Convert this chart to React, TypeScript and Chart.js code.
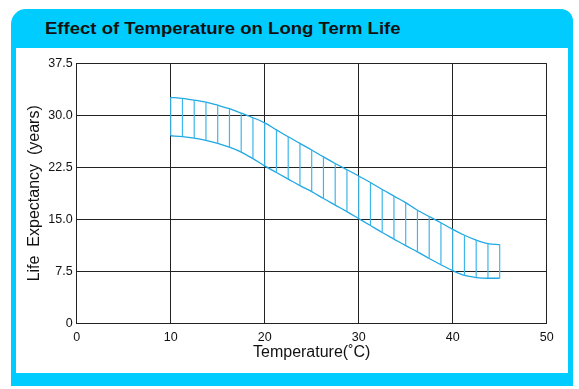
import React, { useEffect, useRef } from "react";
import { Chart, registerables } from "chart.js";

Chart.register(...registerables);

const chartTitle = "Effect of Temperature on Long Term Life";
const xAxisTitle = "Temperature(˚C)";
const yAxisTitle = "Life  Expectancy  (years)";

const yTickLabels = ["0", "7.5", "15.0", "22.5", "30.0", "37.5"];

// Temperatures (°C) where the band is sampled / hatched
const temps = [
  10, 11.25, 12.5, 13.75, 15, 16.25, 17.5, 18.75, 20, 21.25, 22.5, 23.75, 25, 26.25, 27.5,
  28.75, 30, 31.25, 32.5, 33.75, 35, 36.25, 37.5, 38.75, 40, 41.25, 42.5, 43.75, 45,
];

// Upper bound of life expectancy (years)
const upperLife = [
  32.6, 32.45, 32.2, 31.9, 31.45, 30.95, 30.3, 29.65, 28.9, 27.9, 26.9, 25.95, 25.0, 24.0, 23.05,
  22.15, 21.25, 20.3, 19.3, 18.35, 17.4, 16.3, 15.4, 14.5, 13.55, 12.7, 12.0, 11.5, 11.35,
];

// Lower bound of life expectancy (years)
const lowerLife = [
  27.05, 26.92, 26.7, 26.38, 25.95, 25.4, 24.7, 23.75, 22.7, 21.75, 20.8, 19.85, 19.0, 18.0, 17.05,
  16.1, 15.1, 14.1, 13.1, 12.15, 11.2, 10.3, 9.35, 8.45, 7.6, 6.9, 6.6, 6.5, 6.5,
];

const FRAME = "#00CCFF";
const LINE = "#1FA8E3";
const HATCH = "#3DB6EA";
const FONT = "'Liberation Sans', Arial, sans-serif";

export default function App() {
  const canvasRef = useRef<HTMLCanvasElement | null>(null);

  useEffect(() => {
    const canvas = canvasRef.current;
    if (!canvas) return;

    const upperPts = temps.map((t, i) => ({ x: t, y: upperLife[i] }));
    const lowerPts = temps.map((t, i) => ({ x: t, y: lowerLife[i] }));
    const hatchPts: { x: number; y: number | null }[] = [];
    temps.forEach((t, i) => {
      hatchPts.push({ x: t, y: lowerLife[i] });
      hatchPts.push({ x: t, y: upperLife[i] });
      hatchPts.push({ x: t, y: null });
    });

    const chart = new Chart(canvas, {
      type: "scatter",
      data: {
        datasets: [
          {
            data: hatchPts as any,
            showLine: true,
            spanGaps: false,
            borderColor: HATCH,
            borderWidth: 1.2,
            pointRadius: 0,
            tension: 0,
          },
          {
            data: upperPts,
            showLine: true,
            borderColor: LINE,
            borderWidth: 1.3,
            pointRadius: 0,
            cubicInterpolationMode: "monotone",
          },
          {
            data: lowerPts,
            showLine: true,
            borderColor: LINE,
            borderWidth: 1.3,
            pointRadius: 0,
            cubicInterpolationMode: "monotone",
          },
        ],
      },
      options: {
        animation: false,
        responsive: false,
        maintainAspectRatio: false,
        events: [],
        layout: { padding: { left: 0, right: 21.3, top: 15.3, bottom: 0 } },
        plugins: {
          legend: { display: false },
          tooltip: { enabled: false },
          title: { display: false },
        },
        scales: {
          x: {
            type: "linear",
            min: 0,
            max: 50,
            afterFit: (s: any) => {
              s.height = 49.7;
            },
            ticks: {
              stepSize: 10,
              padding: 7,
              color: "#111",
              font: { family: FONT, size: 12.5 },
              maxRotation: 0,
            },
            grid: { color: "#222", lineWidth: 1, drawTicks: false },
            border: { color: "#222", width: 1 },
            title: {
              display: true,
              text: xAxisTitle,
              color: "#111",
              font: { family: FONT, size: 16 },
              padding: { top: 0, bottom: 11 },
            },
          },
          y: {
            type: "linear",
            min: 0,
            max: 37.5,
            afterFit: (s: any) => {
              s.width = 60.7;
            },
            ticks: {
              stepSize: 7.5,
              padding: 4,
              color: "#111",
              font: { family: FONT, size: 12.5 },
              callback: (_v: any, idx: number) => yTickLabels[idx],
            },
            grid: { color: "#222", lineWidth: 1, drawTicks: false },
            border: { color: "#222", width: 1 },
            title: {
              display: true,
              text: yAxisTitle,
              color: "#111",
              font: { family: FONT, size: 16 },
              padding: { top: 8.5, bottom: 0 },
            },
          },
        },
      },
    });

    return () => chart.destroy();
  }, []);

  return (
    <div
      style={{
        position: "fixed",
        left: 0,
        top: 0,
        width: 579,
        height: 389,
        background: "#fff",
        overflow: "hidden",
      }}
    >
      <div
        style={{
          position: "absolute",
          left: 11,
          top: 9,
          width: 562,
          height: 377,
          background: FRAME,
          borderRadius: "15px 12px 0 0",
        }}
      />
      <div
        style={{
          position: "absolute",
          left: 45,
          top: 19,
          lineHeight: "20px",
          fontFamily: FONT,
          fontWeight: "bold",
          fontSize: 17,
          color: "#111",
          whiteSpace: "nowrap",
          transform: "scaleX(1.09)",
          transformOrigin: "left center",
        }}
      >
        {chartTitle}
      </div>
      <div
        style={{
          position: "absolute",
          left: 16,
          top: 48,
          width: 552,
          height: 325,
          background: "#fff",
        }}
      >
        <canvas ref={canvasRef} width={552} height={325} style={{ display: "block" }} />
      </div>
    </div>
  );
}
